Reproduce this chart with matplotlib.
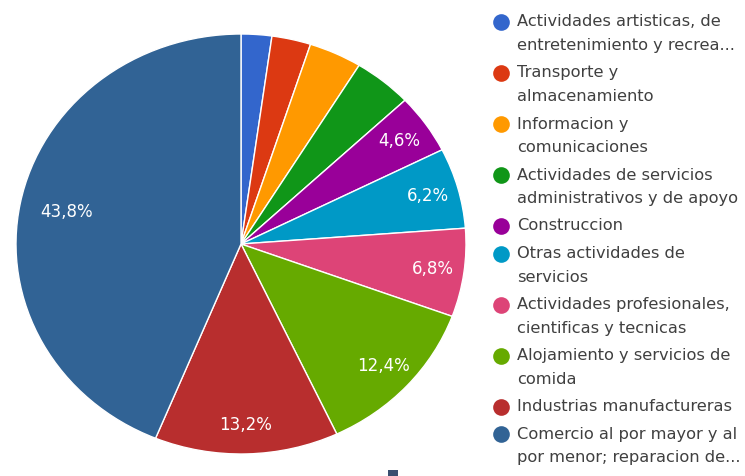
import matplotlib
matplotlib.use("Agg")
import numpy as np
import matplotlib.pyplot as plt
from matplotlib.patches import Rectangle

plt.rcParams['font.family'] = ['DejaVu Sans']

# sector shares (%), clockwise from 12 o'clock
sectores = [
    "Actividades artisticas, de\nentretenimiento y recrea...",
    "Transporte y\nalmacenamiento",
    "Informacion y\ncomunicaciones",
    "Actividades de servicios\nadministrativos y de apoyo",
    "Construccion",
    "Otras actividades de\nservicios",
    "Actividades profesionales,\ncientificas y tecnicas",
    "Alojamiento y servicios de\ncomida",
    "Industrias manufactureras",
    "Comercio al por mayor y al\npor menor; reparacion de...",
]
porcentajes = [2.2, 2.8, 3.8, 4.2, 4.6, 6.2, 6.8, 12.4, 13.2, 43.8]
colores = ["#3366cc", "#dc3912", "#ff9900", "#109618", "#990099",
           "#0099c6", "#dd4477", "#66aa00", "#b82e2e", "#316395"]

W, H = 745, 476
fig = plt.figure(figsize=(W / 100, H / 100), dpi=100)

# pie: center (241, 244) px, slightly wider than tall
cx, cy, rx, ry = 241, 244, 225, 210
ax = fig.add_axes([(cx - rx) / W, (H - cy - ry) / H, 2 * rx / W, 2 * ry / H])

def etiqueta(p):
    return ("%.1f%%" % p).replace(".", ",") if p >= 4.5 else ""

wedges, texts, autotexts = ax.pie(
    porcentajes, colors=colores, startangle=90, counterclock=False,
    autopct=etiqueta, pctdistance=0.86,
    wedgeprops=dict(edgecolor="white", linewidth=1.0),
    textprops=dict(color="white", fontsize=12))
ax.set_aspect("auto")
ax.set_xlim(-1, 1)
ax.set_ylim(-1, 1)

# the big slice keeps its label a bit further in
w = wedges[-1]
ang = np.deg2rad((w.theta1 + w.theta2) / 2)
autotexts[-1].set_position((0.79 * np.cos(ang), 0.79 * np.sin(ang)))

# legend drawn in pixel coordinates
lg = fig.add_axes([0, 0, 1, 1])
lg.set_xlim(0, W)
lg.set_ylim(H, 0)
lg.axis("off")

y = 22
for nombre, col in zip(sectores, colores):
    lineas = nombre.split("\n")
    lg.plot(501, y, "o", color=col, markersize=12, markeredgewidth=0)
    for i, linea in enumerate(lineas):
        lg.text(517, y + i * 23.5, linea, fontsize=11.7, color="#404040",
                va="center", ha="left")
    y += 23.5 * (len(lineas) - 1) + 27.5

lg.add_patch(Rectangle((388, 470), 10, 6, color="#3a4f70", lw=0))

fig.savefig("out.png", dpi=100)
